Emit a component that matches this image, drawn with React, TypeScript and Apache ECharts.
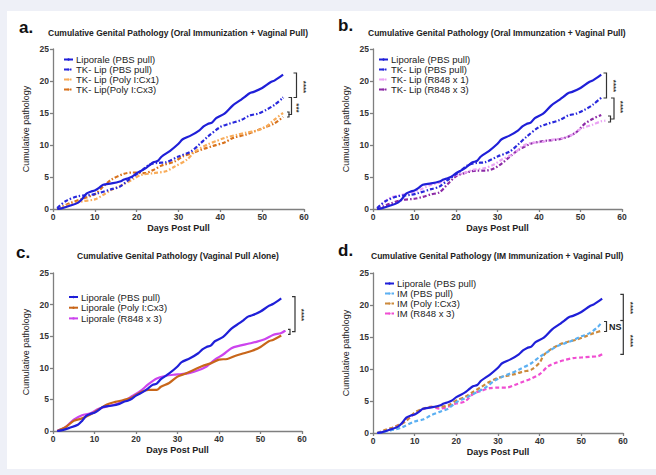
import React, { useEffect, useRef } from "react";
import * as echarts from "echarts";

// ---------- data ----------
const xTickValues = [0, 10, 20, 30, 40, 50, 60];

const liporaleDays = [1, 2, 4, 6, 7, 8, 9, 10, 11, 12, 14, 16, 17, 18, 19, 20, 22, 23, 24, 25, 26, 28, 30, 31, 33, 35, 36, 37, 38, 39, 41, 43, 45, 46, 47, 48, 50, 52, 53, 55];
const liporaleVals = [0, 0.1, 0.5, 1.0, 1.6, 2.4, 2.7, 2.9, 3.3, 3.8, 4.0, 4.3, 4.6, 4.8, 5.1, 5.6, 6.3, 6.8, 7.3, 7.5, 8.2, 9.1, 10.2, 10.9, 11.5, 12.3, 12.9, 13.3, 13.5, 14.2, 14.9, 16.2, 17.1, 17.6, 18.1, 18.3, 18.9, 19.8, 20.1, 21.0];

const tkPbsDays = [1, 3, 6, 9, 11, 14, 16, 18, 21, 23, 25, 27, 30, 33, 35, 37, 40, 42, 45, 47, 49, 51, 53, 55];
const tkPbsVals = [0.15, 1.2, 2.0, 2.2, 2.5, 3.1, 3.5, 4.5, 5.9, 6.9, 7.2, 7.3, 8.2, 9.0, 10.1, 11.3, 12.8, 13.3, 13.9, 14.6, 14.9, 15.5, 16.3, 17.4];

const tkPolyX1Days = [1, 4, 7, 10, 12, 14, 17, 19, 21, 24, 27, 29, 32, 34, 37, 39, 41, 44, 46, 49, 51, 53, 55];
const tkPolyX1Vals = [0, 0.7, 1.2, 1.5, 2.2, 3.0, 3.9, 4.6, 5.3, 5.6, 5.9, 6.6, 7.7, 9.0, 10.1, 10.6, 11.1, 11.6, 11.9, 12.3, 12.9, 14.0, 15.0];

const tkPolyX3Days = [1, 4, 7, 10, 12, 14, 17, 19, 22, 24, 26, 29, 31, 34, 36, 38, 41, 43, 46, 48, 50, 53, 55];
const tkPolyX3Vals = [0, 0.9, 1.6, 2.3, 3.5, 4.6, 5.5, 5.7, 5.6, 6.1, 6.8, 7.4, 8.2, 8.9, 9.4, 9.8, 10.4, 11.1, 11.6, 12.1, 12.6, 13.4, 14.4];

const tkR848X1Days = [1, 4, 7, 10, 12, 14, 17, 19, 22, 24, 27, 29, 31, 34, 36, 38, 41, 43, 46, 48, 50, 53, 55, 56];
const tkR848X1Vals = [0.1, 1.7, 2.2, 2.7, 3.2, 3.8, 4.3, 5.1, 5.6, 6.1, 6.4, 6.9, 7.7, 8.7, 9.8, 10.3, 10.5, 10.8, 11.1, 11.6, 12.5, 13.2, 13.7, 13.8];

const tkR848X3Days = [1, 4, 7, 10, 12, 14, 16, 18, 20, 22, 25, 27, 29, 31, 33, 35, 38, 40, 42, 45, 47, 49, 51, 53, 55];
const tkR848X3Vals = [0, 0.8, 1.4, 1.6, 1.9, 2.3, 2.6, 3.9, 5.1, 5.6, 6.0, 6.0, 6.3, 7.1, 8.2, 9.2, 10.2, 10.5, 10.7, 10.9, 11.3, 12.0, 13.3, 14.1, 14.7];

const vpPolyDays = [1, 3, 5, 7, 9, 11, 13, 15, 17, 19, 21, 23, 25, 26, 28, 30, 32, 34, 36, 38, 40, 42, 44, 46, 48, 50, 52, 53, 55];
const vpPolyVals = [0, 0.6, 1.6, 2.0, 2.6, 3.4, 4.2, 4.6, 4.9, 5.3, 6.1, 6.5, 6.5, 7.0, 7.6, 8.6, 9.1, 9.7, 10.3, 10.7, 11.3, 11.4, 11.9, 12.3, 12.7, 13.3, 14.2, 14.4, 15.1];

const vpR848Days = [1, 3, 5, 7, 9, 11, 13, 15, 17, 19, 21, 23, 25, 27, 29, 31, 33, 35, 37, 39, 41, 43, 45, 47, 49, 51, 53, 55, 56];
const vpR848Vals = [0, 0.6, 1.8, 2.5, 2.8, 3.5, 3.9, 4.2, 4.7, 5.5, 6.3, 7.4, 8.3, 8.7, 8.9, 9.0, 9.2, 9.6, 10.2, 11.3, 12.1, 13.1, 13.5, 13.8, 14.1, 14.5, 15.2, 15.5, 15.9];

const imPbsDays = [1, 5, 7, 10, 12, 14, 16, 18, 20, 22, 25, 27, 29, 31, 33, 35, 38, 40, 42, 44, 46, 48, 50, 52, 54, 55];
const imPbsVals = [0, 0.5, 0.9, 1.8, 2.1, 2.8, 3.3, 3.8, 4.8, 5.4, 6.4, 7.1, 8.1, 8.8, 9.3, 9.9, 10.9, 11.9, 12.7, 13.5, 14.0, 14.5, 15.1, 15.6, 16.6, 17.4];

const imPolyDays = [1, 3, 5, 7, 8, 10, 12, 14, 16, 18, 20, 22, 24, 26, 28, 30, 32, 34, 36, 38, 40, 41, 43, 45, 47, 49, 51, 53, 55];
const imPolyVals = [0, 0.5, 0.9, 1.5, 1.9, 3.2, 3.8, 4.1, 4.1, 4.3, 5.1, 5.6, 6.4, 7.2, 8.0, 8.6, 8.9, 9.2, 9.6, 9.9, 11.0, 12.2, 13.2, 13.9, 14.3, 14.6, 15.1, 15.6, 16.0];

const imR848Days = [1, 3, 5, 7, 8, 10, 12, 14, 16, 18, 20, 22, 24, 26, 28, 30, 32, 34, 36, 38, 40, 42, 44, 46, 48, 50, 52, 54, 55];
const imR848Vals = [0, 0.4, 0.9, 1.5, 2.0, 3.0, 3.7, 4.1, 3.8, 4.1, 4.6, 4.9, 6.1, 6.6, 7.0, 7.1, 7.1, 7.5, 8.0, 8.5, 9.2, 10.4, 11.0, 11.4, 11.7, 11.8, 11.9, 12.0, 12.3];

const panelLetters = ["a.", "b.", "c.", "d."];
const panelTitles = [
  "Cumulative Genital Pathology (Oral Immunization + Vaginal Pull)",
  "Cumulative Genital Pathology (Oral Immunzation + Vaginal Pull)",
  "Cumulative Genital Pathology (Vaginal Pull Alone)",
  "Cumulative Genital Pathology (IM Immunization + Vaginal Pull)",
];
const xAxisName = "Days Post Pull";
const yAxisName = "Cumulative pathology";

// ---------- styles ----------
const FONT = "'Liberation Sans', Arial, Helvetica, sans-serif";
const DASHDOT = [4, 2, 1.5, 2];
const DASHED = [4, 2.5];

type S = { panel: number; name: string; days: number[]; vals: number[]; color: string; dash: any; width: number };

const seriesDefs: S[] = [
  { panel: 0, name: "Liporale (PBS pull)", days: liporaleDays, vals: liporaleVals, color: "#1f1fd8", dash: "solid", width: 2.2 },
  { panel: 0, name: "TK- Lip (PBS pull)", days: tkPbsDays, vals: tkPbsVals, color: "#2828dc", dash: DASHDOT, width: 2.2 },
  { panel: 0, name: "TK- Lip (Poly I:Cx1)", days: tkPolyX1Days, vals: tkPolyX1Vals, color: "#f8ac5a", dash: DASHDOT, width: 2.2 },
  { panel: 0, name: "TK- Lip(Poly I:Cx3)", days: tkPolyX3Days, vals: tkPolyX3Vals, color: "#d8721c", dash: DASHDOT, width: 2.2 },

  { panel: 1, name: "Liporale (PBS pull)", days: liporaleDays, vals: liporaleVals, color: "#1f1fd8", dash: "solid", width: 2.2 },
  { panel: 1, name: "TK- Lip (PBS pull)", days: tkPbsDays, vals: tkPbsVals, color: "#2828dc", dash: DASHDOT, width: 2.2 },
  { panel: 1, name: "TK- Lip (R848 x 1)", days: tkR848X1Days, vals: tkR848X1Vals, color: "#eaa2f4", dash: DASHDOT, width: 2.2 },
  { panel: 1, name: "TK- Lip (R848 x 3)", days: tkR848X3Days, vals: tkR848X3Vals, color: "#8c2aa6", dash: DASHDOT, width: 2.2 },

  { panel: 2, name: "Liporale (PBS pull)", days: liporaleDays, vals: liporaleVals, color: "#1f1fd8", dash: "solid", width: 2.2 },
  { panel: 2, name: "Liporale (Poly I:Cx3)", days: vpPolyDays, vals: vpPolyVals, color: "#c8661a", dash: "solid", width: 2.2 },
  { panel: 2, name: "Liporale (R848 x 3)", days: vpR848Days, vals: vpR848Vals, color: "#cc44ee", dash: "solid", width: 2.2 },

  { panel: 3, name: "Liporale (PBS pull)", days: liporaleDays, vals: liporaleVals, color: "#1f1fd8", dash: "solid", width: 2.2 },
  { panel: 3, name: "IM (PBS pull)", days: imPbsDays, vals: imPbsVals, color: "#5cb0f2", dash: DASHED, width: 2.2 },
  { panel: 3, name: "IM (Poly I:Cx3)", days: imPolyDays, vals: imPolyVals, color: "#cc8a3c", dash: DASHED, width: 2.2 },
  { panel: 3, name: "IM (R848 x 3)", days: imR848Days, vals: imR848Vals, color: "#f04ed2", dash: DASHED, width: 2.2 },
];

const grids = [
  { left: 53, top: 49, width: 251, height: 160 },
  { left: 373, top: 49, width: 249, height: 160 },
  { left: 53, top: 273, width: 249, height: 158 },
  { left: 373, top: 273, width: 250, height: 160 },
];
const legendPos = [
  { left: 63, top: 54.5 },
  { left: 378, top: 54.5 },
  { left: 68, top: 292 },
  { left: 384, top: 278.5 },
];
const legendGaps = [0, 0, 0.7, 0];
const letterPos = [
  { left: 19, top: 19 },
  { left: 338, top: 17 },
  { left: 16, top: 244 },
  { left: 338, top: 242 },
];
const titlePos = [
  { left: 48, top: 28 },
  { left: 368, top: 28 },
  { left: 77, top: 251 },
  { left: 371, top: 251 },
];

function bracket(x: number, y1: number, y2: number, tick: number) {
  return {
    type: "polyline",
    shape: { points: [[x - tick, y1], [x, y1], [x, y2], [x - tick, y2]] },
    style: { stroke: "#333", fill: null, lineWidth: 1.2 },
  };
}
function stars(x: number, y: number, t: string) {
  return {
    type: "text",
    x,
    y,
    rotation: -Math.PI / 2,
    style: { text: t, fontSize: 8, fontWeight: "bold", fill: "#333", align: "center", verticalAlign: "middle", fontFamily: FONT },
  };
}

export default function App() {
  const ref = useRef<HTMLDivElement>(null);
  useEffect(() => {
    document.body.style.margin = "0";
    const chart = echarts.init(ref.current!, undefined, { renderer: "svg" });

    const xAxis = grids.map((_, i) => ({
      gridIndex: i,
      type: "value",
      min: 0,
      max: 60,
      interval: 10,
      name: xAxisName,
      nameLocation: "middle",
      nameGap: 14,
      nameTextStyle: { fontSize: 9, fontWeight: "bold", color: "#222", fontFamily: FONT },
      axisLine: { show: true, lineStyle: { color: "#7f7f7f", width: 1.3 } },
      axisTick: { show: true, length: 3, lineStyle: { color: "#7f7f7f", width: 1.3 } },
      axisLabel: { margin: 3, fontSize: 8.5, fontWeight: "bold", color: "#333", fontFamily: FONT, customValues: xTickValues },
      splitLine: { show: false },
    }));
    const yAxis = grids.map((_, i) => ({
      gridIndex: i,
      type: "value",
      min: 0,
      max: 25,
      interval: 5,
      name: yAxisName,
      nameLocation: "middle",
      nameGap: 23,
      nameTextStyle: { fontSize: 9, color: "#222", fontFamily: FONT },
      axisLine: { show: true, lineStyle: { color: "#7f7f7f", width: 1.3 } },
      axisTick: { show: true, length: 3, lineStyle: { color: "#7f7f7f", width: 1.3 } },
      axisLabel: { margin: 4, fontSize: 8.5, fontWeight: "bold", color: "#333", fontFamily: FONT },
      splitLine: { show: false },
    }));

    const series = seriesDefs.map((s) => ({
      type: "line",
      name: s.name,
      xAxisIndex: s.panel,
      yAxisIndex: s.panel,
      data: s.days.map((d, i) => [d, s.vals[i]]),
      symbol: "none",
      smooth: 0.3,
      lineStyle: { color: s.color, width: s.width, type: s.dash },
      itemStyle: { color: s.color },
      z: 10 - seriesDefs.filter((t) => t.panel === s.panel).indexOf(s),
    }));

    const legend = grids.map((_, i) => ({
      orient: "vertical",
      left: legendPos[i].left,
      top: legendPos[i].top,
      padding: 0,
      itemWidth: 9,
      itemHeight: 3,
      itemGap: legendGaps[i],
      selectedMode: false,
      data: seriesDefs.filter((s) => s.panel === i).map((s) => s.name),
      textStyle: { fontSize: 9.5, color: "#222", lineHeight: 9, fontFamily: FONT, padding: [0, 0, 0, -2] },
    }));

    const title: any[] = [];
    grids.forEach((_, i) => {
      title.push({ text: panelLetters[i], left: letterPos[i].left, top: letterPos[i].top, padding: 0, textStyle: { fontSize: 17, fontWeight: "bold", color: "#111", fontFamily: FONT } });
      title.push({ text: panelTitles[i], left: titlePos[i].left, top: titlePos[i].top, padding: 0, textStyle: { fontSize: 8.5, fontWeight: "bold", color: "#222", fontFamily: FONT } });
    });

    const graphic: any[] = [
      { type: "rect", z: -10, shape: { x: 7, y: 11, width: 649, height: 458 }, style: { fill: "#ffffff" } },
      // panel a
      bracket(296.5, 73, 97.5, 3),
      bracket(291.5, 97.5, 114.5, 3),
      bracket(289, 112, 117, 2),
      stars(303, 87, "****"),
      stars(296.5, 108, "***"),
      // panel b
      bracket(606.5, 73, 98, 3),
      bracket(614, 98, 119, 3),
      bracket(610.5, 116, 122, 2.5),
      stars(613, 86, "****"),
      stars(620, 107, "****"),
      // panel c
      bracket(295, 296.7, 331.7, 3),
      bracket(290, 329.3, 334.3, 2),
      stars(301, 315, "****"),
      // panel d
      bracket(623.3, 294.3, 354.3, 3),
      { type: "line", shape: { x1: 620.3, y1: 320.5, x2: 623.3, y2: 320.5 }, style: { stroke: "#333", lineWidth: 1.2 } },
      bracket(606.5, 321.5, 331.5, 2.5),
      { type: "text", x: 609, y: 327, style: { text: "NS", fontSize: 9, fontWeight: "bold", fill: "#222", align: "left", verticalAlign: "middle", fontFamily: FONT } },
      stars(630, 308, "****"),
      stars(630, 341, "****"),
    ];

    chart.setOption({
      animation: false,
      backgroundColor: "#eef0f7",
      textStyle: { fontFamily: FONT },
      grid: grids.map((g) => ({ ...g, containLabel: false })),
      xAxis,
      yAxis,
      legend,
      title,
      series,
      graphic,
    });
    return () => chart.dispose();
  }, []);
  return <div ref={ref} style={{ width: 656, height: 475, position: "absolute", left: 0, top: 0 }} />;
}
